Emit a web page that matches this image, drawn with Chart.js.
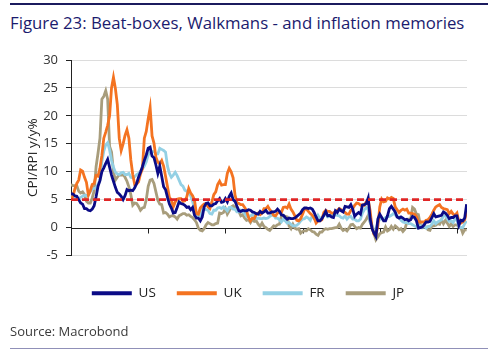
<!DOCTYPE html>
<html>
<head>
<meta charset="utf-8">
<script src="https://cdn.jsdelivr.net/npm/chart.js@4.4.1/dist/chart.umd.min.js"></script>
<style>
  html, body { margin:0; padding:0; background:#ffffff; }
  body { width:500px; height:355px; position:relative; overflow:hidden; font-family:"Open Sans", "Noto Sans", sans-serif; }
  #topline { position:absolute; left:10px; top:3px; width:478px; height:2px; background:#1b1b5e; }
  #title { position:absolute; left:10px; top:11px; font-size:16.8px; color:#1b1b6e; white-space:nowrap; }
  #source { position:absolute; left:10px; top:322px; font-size:13px; color:#3a3a3a; white-space:nowrap; }
  #botline { position:absolute; left:10px; top:348px; width:478px; height:1px; background:#9090b8; }
  #c { position:absolute; left:0; top:0; }
</style>
</head>
<body>
<div id="topline"></div>
<div id="title">Figure 23: Beat-boxes, Walkmans - and inflation memories</div>
<canvas id="c" width="500" height="355"></canvas>
<div id="source">Source: Macrobond</div>
<div id="botline"></div>
<script>
// Quarterly observations, first point Jan-70
const startYear = 1970;
const seriesNames = ['US', 'UK', 'FR', 'JP'];
const tickYears = [1970, 1980, 1990, 2000, 2010, 2020];
const tickLabels = ['Jan-70', 'Jan-80', 'Jan-90', 'Jan-00', 'Jan-10', 'Jan-20'];
const yTicks = [-5, 0, 5, 10, 15, 20, 25, 30];
const threshold = 5;

const usValues = [
  6.1, 6.0, 5.7, 5.6,  5.0, 4.4, 4.2, 3.4,  3.4, 3.1, 3.0, 3.3,  3.9, 5.5, 7.4, 8.4,
  10.0, 10.7, 11.5, 12.2,  10.8, 9.4, 8.3, 7.2,  6.3, 6.0, 5.6, 5.0,  5.7, 6.8, 6.6, 6.7,
  6.6, 7.1, 7.9, 9.0,  9.9, 10.9, 12.0, 13.0,  14.2, 14.4, 12.8, 12.5,  11.2, 9.7, 11.0, 9.2,
  7.3, 6.8, 5.4, 4.2,  3.5, 2.6, 2.7, 3.6,  4.6, 4.3, 4.2, 4.0,  3.6, 3.7, 3.2, 3.6,
  2.2, 1.7, 1.7, 1.2,  1.9, 3.7, 4.3, 4.4,  3.9, 3.9, 4.2, 4.3,  4.8, 5.2, 4.5, 4.6,
  5.2, 4.6, 5.6, 6.2,  5.0, 4.7, 3.8, 3.0,  2.9, 3.1, 3.0, 3.0,  3.2, 3.1, 2.8, 2.7,
  2.5, 2.4, 2.9, 2.6,  2.8, 3.1, 2.6, 2.6,  2.8, 2.8, 2.9, 3.3,  2.9, 2.3, 2.2, 1.8,
  1.5, 1.7, 1.6, 1.6,  1.7, 2.0, 2.3, 2.6,  3.2, 3.5, 3.5, 3.4,  3.5, 3.3, 2.7, 1.9,
  1.2, 1.2, 1.6, 2.2,  2.9, 2.1, 2.2, 1.9,  1.8, 3.0, 2.7, 3.3,  3.0, 2.8, 3.8, 3.7,
  3.6, 4.1, 3.3, 2.0,  2.4, 2.7, 2.4, 4.0,  4.1, 4.3, 5.3, 1.6,  -0.2, -1.0, -1.6, 1.5,
  2.4, 1.8, 1.2, 1.2,  2.1, 3.4, 3.8, 3.3,  2.8, 1.9, 1.7, 1.9,  1.7, 1.4, 1.5, 1.2,
  1.4, 2.0, 1.8, 1.2,  -0.1, 0.0, 0.1, 0.5,  1.0, 1.0, 1.1, 1.8,  2.5, 1.9, 2.0, 2.1,
  2.2, 2.8, 2.6, 2.2,  1.6, 1.8, 1.8, 2.1,  2.1, 0.4, 1.3, 1.2,  1.7, 4.2
];
const ukValues = [
  5.0, 5.6, 6.9, 7.9,  8.5, 10.3, 10.1, 9.0,  8.1, 5.8, 6.6, 7.7,  7.9, 9.3, 9.2, 10.6,
  12.9, 16.0, 17.1, 18.3,  20.0, 25.0, 26.9, 24.9,  22.0, 16.0, 13.8, 15.0,  16.5, 17.5, 16.0, 12.1,
  9.5, 7.7, 7.8, 8.2,  9.6, 10.5, 16.0, 17.2,  19.5, 21.5, 16.4, 15.1,  12.6, 11.7, 11.4, 12.0,
  11.0, 9.2, 7.3, 5.4,  4.9, 3.7, 4.6, 5.1,  5.2, 5.2, 4.7, 4.8,  5.5, 7.0, 6.2, 5.7,
  4.9, 2.5, 2.4, 3.5,  3.9, 4.2, 4.3, 3.7,  3.4, 4.6, 5.9, 6.4,  7.7, 8.3, 7.6, 7.7,
  7.7, 9.7, 10.6, 10.0,  8.9, 5.8, 4.5, 4.3,  4.1, 4.1, 3.6, 3.0,  1.8, 1.2, 1.7, 1.6,
  2.4, 2.6, 2.3, 2.6,  3.4, 3.4, 3.8, 3.2,  2.8, 2.2, 2.1, 2.6,  2.8, 2.7, 3.6, 3.7,
  3.5, 4.2, 3.3, 2.8,  2.1, 1.3, 1.2, 1.6,  2.4, 3.3, 3.3, 2.9,  2.5, 2.2, 1.7, 0.8,
  1.2, 1.2, 1.4, 2.7,  3.1, 2.9, 2.9, 2.6,  2.6, 2.9, 3.1, 3.4,  3.2, 2.9, 2.7, 2.4,
  2.4, 3.1, 3.4, 4.0,  4.4, 4.3, 4.0, 4.1,  4.0, 4.6, 5.0, 3.0,  0.0, -1.2, -1.4, 0.3,
  3.7, 5.1, 4.6, 4.7,  5.3, 5.1, 5.4, 5.2,  3.7, 3.2, 2.7, 3.1,  3.3, 3.1, 3.3, 2.6,
  2.6, 2.5, 2.4, 2.0,  1.0, 1.0, 1.0, 1.0,  1.3, 1.4, 1.8, 2.4,  3.1, 3.7, 3.9, 4.1,
  3.6, 3.4, 3.3, 3.2,  2.5, 2.9, 2.4, 2.2,  2.6, 1.0, 0.8, 1.0,  1.4, 2.9
];
const frValues = [
  5.5, 5.6, 5.4, 5.3,  5.2, 5.4, 5.6, 5.8,  5.7, 5.9, 6.4, 6.9,  7.0, 7.1, 7.7, 8.5,
  11.8, 13.7, 14.8, 15.2,  13.9, 12.0, 10.8, 9.9,  9.6, 9.5, 9.8, 9.9,  9.5, 9.5, 9.7, 9.0,
  8.9, 9.1, 9.5, 9.7,  10.1, 10.5, 11.0, 11.8,  13.0, 13.4, 13.6, 13.6,  13.2, 13.2, 14.2, 14.0,
  13.8, 13.5, 11.0, 9.7,  9.0, 9.4, 9.9, 9.3,  8.5, 7.7, 7.4, 6.7,  6.5, 6.2, 5.7, 4.7,
  3.1, 2.4, 2.1, 2.1,  3.4, 3.4, 3.2, 3.1,  2.5, 2.4, 3.1, 3.1,  3.5, 3.6, 3.4, 3.7,
  3.4, 3.0, 3.6, 3.6,  3.3, 3.3, 2.8, 2.8,  3.1, 2.9, 2.5, 2.0,  2.1, 2.1, 2.3, 2.1,
  1.6, 1.7, 1.6, 1.6,  1.7, 1.6, 1.7, 2.0,  2.2, 2.3, 1.7, 1.7,  1.4, 1.0, 1.5, 1.2,
  0.8, 0.9, 0.6, 0.3,  0.3, 0.4, 0.7, 1.2,  1.5, 1.6, 1.9, 1.7,  1.3, 2.1, 1.6, 1.4,
  2.2, 1.6, 1.8, 2.1,  2.5, 1.9, 2.0, 2.3,  2.0, 2.3, 2.2, 2.1,  1.8, 1.7, 2.1, 1.5,
  1.9, 2.0, 1.5, 1.5,  1.2, 1.2, 1.5, 2.6,  3.2, 3.6, 3.2, 1.0,  0.4, -0.5, -0.4, 0.9,
  1.5, 1.6, 1.5, 1.8,  1.9, 2.0, 2.2, 2.5,  2.3, 1.9, 1.9, 1.3,  1.0, 0.9, 0.9, 0.7,
  0.7, 0.5, 0.3, 0.1,  -0.1, 0.3, 0.0, 0.2,  -0.1, 0.2, 0.2, 0.6,  1.2, 0.7, 1.0, 1.2,
  1.4, 2.0, 2.2, 1.6,  1.1, 1.2, 0.9, 1.5,  1.4, 0.2, 0.0, 0.0,  0.7, 1.2
];
const jpValues = [
  7.7, 7.5, 7.5, 7.5,  6.5, 6.2, 6.4, 5.9,  4.7, 4.4, 4.4, 5.3,  6.6, 10.9, 13.3, 16.0,
  23.0, 23.5, 24.5, 23.0,  14.5, 13.5, 10.0, 8.5,  9.0, 9.5, 9.4, 9.5,  9.0, 8.3, 7.3, 5.9,
  4.0, 4.4, 4.3, 3.8,  3.1, 3.5, 3.6, 5.0,  7.4, 8.5, 8.6, 7.9,  6.4, 4.9, 4.2, 4.1,
  2.6, 2.7, 2.4, 1.9,  2.1, 2.1, 1.9, 1.5,  2.1, 2.3, 2.5, 2.5,  2.2, 2.3, 2.0, 1.8,
  1.4, 0.9, -0.1, -0.5,  -0.6, -0.2, 0.5, 0.9,  0.7, 0.5, 0.5, 0.7,  0.8, 2.6, 2.5, 2.7,
  3.4, 2.4, 3.0, 3.7,  3.9, 3.6, 2.9, 2.9,  2.1, 2.3, 1.7, 1.3,  1.4, 0.9, 1.5, 1.1,
  1.2, 0.6, 0.2, 0.8,  0.2, 0.0, -0.3, -0.5,  -0.1, 0.3, 0.2, 0.5,  0.6, 2.0, 2.2, 2.0,
  1.9, 0.3, -0.2, 0.6,  -0.1, -0.3, -0.2, -1.0,  -0.7, -0.6, -0.6, -0.2,  -0.4, -0.7, -0.8, -1.2,
  -1.4, -0.8, -0.8, -0.4,  -0.2, -0.3, -0.2, -0.2,  -0.1, 0.0, 0.0, 0.6,  -0.1, -0.5, -0.3, -0.6,
  -0.1, 0.5, 0.6, 0.2,  -0.2, 0.0, -0.1, 0.6,  1.0, 1.5, 2.2, 1.0,  0.0, -1.1, -2.2, -1.7,
  -1.1, -0.9, -0.8, 0.1,  -0.6, -0.4, 0.2, -0.3,  0.3, 0.0, -0.4, -0.2,  -0.7, -0.3, 0.9, 1.5,
  1.5, 3.6, 3.3, 2.4,  2.3, 0.5, 0.0, 0.2,  0.1, -0.4, -0.5, 0.3,  0.3, 0.4, 0.7, 0.6,
  1.4, 0.7, 1.3, 0.8,  0.2, 0.7, 0.2, 0.5,  0.5, 0.1, 0.0, -1.0,  -0.4, -0.4
];

const colors = { US: '#0b0b86', UK: '#f47321', FR: '#93d0e4', JP: '#a89d7c', line: '#e02626' };

const dates = usValues.map((_, i) => startYear + i / 4);
const toPoints = vals => vals.map((v, i) => ({ x: dates[i], y: v }));
const xMin = 1970, xMax = 2021.3;
const fontFamily = '"Open Sans", "Noto Sans", sans-serif';

const zeroTicks = {
  id: 'zeroTicks',
  beforeDatasetsDraw(chart) {
    const { ctx, scales: { x, y } } = chart;
    const y0 = Math.round(y.getPixelForValue(0)) + 0.5;
    ctx.save();
    ctx.strokeStyle = '#222';
    ctx.lineWidth = 1;
    ctx.beginPath();
    ctx.moveTo(x.left, y0);
    ctx.lineTo(x.right, y0);
    tickYears.forEach(t => {
      const px = Math.round(x.getPixelForValue(t)) + 0.5;
      ctx.moveTo(px, y0);
      ctx.lineTo(px, y0 + 5);
    });
    ctx.stroke();
    ctx.restore();
  }
};

const mk = (name, vals) => ({
  label: name, data: toPoints(vals), borderColor: colors[name], backgroundColor: colors[name],
  borderWidth: 2.8, pointRadius: 0, tension: 0, fill: false
});

new Chart(document.getElementById('c'), {
  type: 'line',
  data: {
    datasets: [
      { label: 'threshold', data: [{ x: xMin, y: threshold }, { x: xMax, y: threshold }],
        borderColor: colors.line, borderWidth: 2.6, borderDash: [7, 4], pointRadius: 0, fill: false },
      mk('US', usValues),
      mk('UK', ukValues),
      mk('FR', frValues),
      mk('JP', jpValues)
    ]
  },
  options: {
    responsive: false,
    animation: false,
    devicePixelRatio: 1,
    layout: { padding: { left: 29, right: 33, top: 60, bottom: 45 } },
    plugins: {
      tooltip: { enabled: false },
      legend: {
        position: 'bottom',
        labels: {
          boxWidth: 40, boxHeight: 4, padding: 21,
          font: { family: fontFamily, size: 13.5 },
          color: '#222',
          generateLabels: chart => Chart.defaults.plugins.legend.labels.generateLabels(chart)
            .filter(l => l.text !== 'threshold')
            .map(l => Object.assign(l, { lineWidth: 0, fillStyle: l.strokeStyle }))
        }
      }
    },
    scales: {
      x: {
        type: 'linear', min: xMin, max: xMax,
        afterBuildTicks: s => { s.ticks = tickYears.map(v => ({ value: v })); },
        afterFit: s => { s.height = 10; },
        grid: { display: false, drawTicks: false },
        border: { display: false },
        ticks: {
          padding: 12,
          callback: v => tickLabels[tickYears.indexOf(v)],
          font: { family: fontFamily, size: 13 },
          color: '#333', maxRotation: 0, autoSkip: false
        }
      },
      y: {
        min: -5, max: 30,
        afterBuildTicks: s => { s.ticks = yTicks.map(v => ({ value: v })); },
        afterFit: s => { s.width = 42; },
        grid: {
          color: ctx => ctx.tick && ctx.tick.value === 0 ? 'rgba(0,0,0,0)' : '#dcdcdc',
          tickColor: '#222', tickLength: 5, lineWidth: 1
        },
        border: { display: true, color: '#222', width: 1 },
        title: {
          display: true, text: 'CPI/RPI y/y%', color: '#222',
          font: { family: fontFamily, size: 13.5 }, padding: { top: -4, bottom: 0 }
        },
        ticks: {
          padding: 8, color: '#333',
          font: { family: fontFamily, size: 13 }
        }
      }
    }
  },
  plugins: [zeroTicks]
});
</script>
</body>
</html>
